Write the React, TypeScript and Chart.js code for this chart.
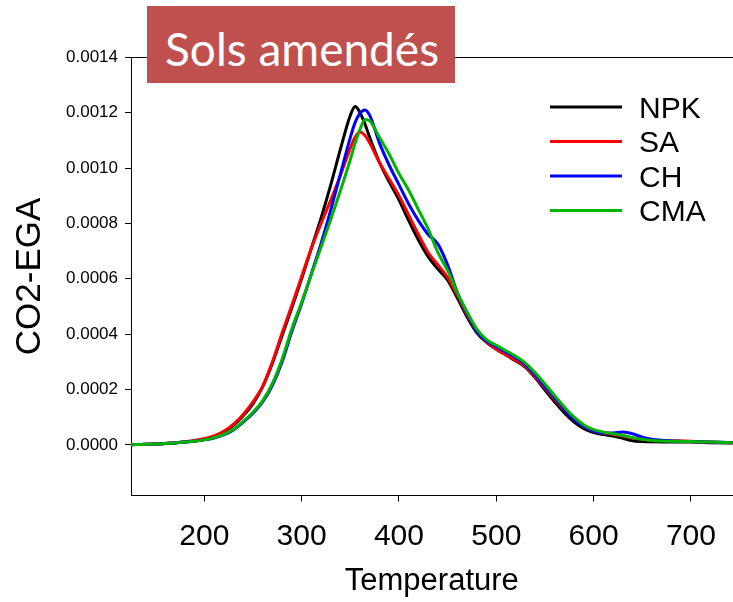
import React, { useEffect, useRef } from "react";
import { Chart, registerables } from "chart.js";

Chart.register(...registerables);

const temperatures = [
  120, 130, 140, 150, 160, 170, 180, 190, 200, 210,
  220, 230, 240, 250, 260, 270, 280, 290, 300, 310,
  320, 330, 340, 350, 355, 360, 365, 370, 380, 390,
  400, 410, 420, 430, 440, 450, 460, 470, 480, 490,
  500, 510, 520, 530, 540, 550, 560, 570, 580, 590,
  600, 610, 620, 630, 640, 650, 660, 680, 700, 720,
  750,
];

const npk = [
  0, 0.000001, 0.000002, 0.000003, 0.000005, 0.000007, 0.00001, 0.000014, 0.00002, 0.00003,
  0.000046, 0.00007, 0.000105, 0.000148, 0.00021, 0.000295, 0.000395, 0.000495, 0.0006, 0.00071,
  0.00082, 0.00094, 0.00107, 0.00119, 0.001222, 0.0012, 0.00116, 0.00111, 0.00102, 0.00095,
  0.000885, 0.00081, 0.00074, 0.00068, 0.000635, 0.000595, 0.00053, 0.000462, 0.000405, 0.00037,
  0.000345, 0.000325, 0.000303, 0.00028, 0.000242, 0.000198, 0.000155, 0.000115, 0.000082, 0.000058,
  0.000044, 0.000037, 0.000032, 0.000024, 0.000015, 0.000012, 0.000011, 0.00001, 0.00001, 0.000008,
  0.000006,
];

const sa = [
  0, 0.000001, 0.000002, 0.000003, 0.000005, 0.000008, 0.000011, 0.000016, 0.000022, 0.000032,
  0.000049, 0.000075, 0.00011, 0.000155, 0.000212, 0.0003, 0.000405, 0.000505, 0.000608, 0.00071,
  0.0008, 0.000885, 0.000975, 0.001072, 0.001112, 0.00113, 0.001118, 0.00109, 0.00102, 0.00096,
  0.0009, 0.00083, 0.00076, 0.000695, 0.00065, 0.000605, 0.00054, 0.00047, 0.00041, 0.000372,
  0.000345, 0.000325, 0.000305, 0.000283, 0.000246, 0.000205, 0.000165, 0.000126, 0.000092, 0.000066,
  0.00005, 0.000042, 0.000038, 0.000032, 0.000025, 0.00002, 0.000017, 0.000015, 0.000013, 0.00001,
  0.000007,
];

const ch = [
  0, 0.000001, 0.000002, 0.000003, 0.000005, 0.000007, 0.00001, 0.000013, 0.000018, 0.000025,
  0.000036, 0.000054, 0.000082, 0.000114, 0.000155, 0.000215, 0.0003, 0.00041, 0.00051, 0.000618,
  0.000728, 0.00085, 0.00098, 0.00111, 0.001165, 0.001198, 0.00121, 0.00119, 0.00109, 0.00101,
  0.00094, 0.00087, 0.00081, 0.00076, 0.000725, 0.00065, 0.00055, 0.000475, 0.00041, 0.000375,
  0.000355, 0.000335, 0.000315, 0.00029, 0.000252, 0.00021, 0.00017, 0.000128, 0.000092, 0.000066,
  0.00005, 0.000043, 0.000043, 0.000046, 0.00004, 0.000028, 0.00002, 0.000014, 0.000012, 0.00001,
  0.000008,
];

const cma = [
  0, 0.000001, 0.000002, 0.000003, 0.000005, 0.000007, 0.00001, 0.000013, 0.000018, 0.000026,
  0.000038, 0.000056, 0.000085, 0.000118, 0.00016, 0.000222, 0.00031, 0.00042, 0.000515, 0.000615,
  0.000715, 0.000815, 0.00092, 0.00103, 0.00109, 0.00114, 0.001175, 0.00117, 0.00111, 0.00105,
  0.00098, 0.00092, 0.00085, 0.00078, 0.000695, 0.00063, 0.00055, 0.00048, 0.000418, 0.00038,
  0.00036, 0.00034, 0.00032, 0.000295, 0.00026, 0.00022, 0.000178, 0.000136, 0.0001, 0.000072,
  0.000055, 0.000046, 0.00004, 0.000034, 0.000026, 0.00002, 0.000016, 0.000013, 0.000012, 0.00001,
  0.000007,
];

const seriesNames = ["NPK", "SA", "CH", "CMA"];
const seriesValues = [npk, sa, ch, cma];
const seriesColors = ["#000000", "#FF0000", "#0000FF", "#00B400"];

const xTickValues = [200, 300, 400, 500, 600, 700];
const yTickValues = [0, 0.0002, 0.0004, 0.0006, 0.0008, 0.001, 0.0012, 0.0014];

const titleText = "Sols amendés";
const xAxisTitle = "Temperature";
const yAxisTitle = "CO2-EGA";

const FONT = '"Liberation Sans", Arial, sans-serif';

const lineLegend = {
  id: "lineLegend",
  afterDatasetsDraw(chart: any) {
    const ctx = chart.ctx;
    ctx.save();
    ctx.font = `30px ${FONT}`;
    ctx.textAlign = "left";
    ctx.textBaseline = "alphabetic";
    seriesNames.forEach((name, i) => {
      const y = 107 + i * 34.5;
      ctx.strokeStyle = seriesColors[i];
      ctx.lineWidth = 3;
      ctx.beginPath();
      ctx.moveTo(550, y);
      ctx.lineTo(622, y);
      ctx.stroke();
      ctx.fillStyle = "#000";
      ctx.fillText(name, 639, y + 10.7);
    });
    ctx.restore();
  },
};

export default function App() {
  const canvasRef = useRef<HTMLCanvasElement | null>(null);

  useEffect(() => {
    if (!canvasRef.current) return;
    const datasets = seriesNames.map((name, i) => ({
      label: name,
      data: temperatures.map((t, j) => ({ x: t, y: seriesValues[i][j] })),
      borderColor: seriesColors[i],
      backgroundColor: seriesColors[i],
      borderWidth: 3,
      pointRadius: 0,
      fill: false,
      cubicInterpolationMode: "monotone" as const,
      order: seriesNames.length - i,
    }));

    const chart = new Chart(canvasRef.current, {
      type: "line",
      data: { datasets },
      plugins: [lineLegend],
      options: {
        animation: false,
        responsive: false,
        devicePixelRatio: 1,
        layout: { padding: { top: 57.3, left: 0, right: 0, bottom: 0 } },
        plugins: {
          legend: { display: false },
          tooltip: { enabled: false },
          title: { display: false },
        },
        scales: {
          x: {
            type: "linear",
            position: "bottom",
            min: 124.7,
            max: 742.8,
            afterFit: (s: any) => {
              s.height = 106.5;
            },
            afterBuildTicks: (s: any) => {
              s.ticks = xTickValues.map((v) => ({ value: v }));
            },
            ticks: {
              color: "#000",
              font: { family: FONT, size: 30 },
              padding: 17,
              maxRotation: 0,
              callback: (v: any) => String(v),
            },
            grid: {
              display: true,
              drawOnChartArea: false,
              drawTicks: true,
              tickLength: 6,
              color: "#000",
              lineWidth: 1,
            },
            border: { display: true, color: "#000", width: 1 },
            title: {
              display: true,
              text: xAxisTitle,
              color: "#000",
              font: { family: FONT, size: 31 },
              padding: { top: 0, bottom: 2 },
            },
          },
          x2: {
            type: "linear",
            position: "top",
            min: 124.7,
            max: 742.8,
            afterFit: (s: any) => {
              s.height = 0;
            },
            ticks: { display: false },
            grid: { display: false },
            border: { display: true, color: "#000", width: 1 },
          },
          y: {
            type: "linear",
            min: -0.000183,
            max: 0.0014,
            afterFit: (s: any) => {
              s.width = 131;
            },
            afterBuildTicks: (s: any) => {
              s.ticks = yTickValues.map((v) => ({ value: v }));
            },
            ticks: {
              color: "#000",
              font: { family: FONT, size: 17 },
              padding: 7,
              callback: (v: any) => Number(v).toFixed(4),
            },
            grid: {
              display: true,
              drawOnChartArea: false,
              drawTicks: true,
              tickLength: 6,
              color: "#000",
              lineWidth: 1,
            },
            border: { display: true, color: "#000", width: 1 },
            title: {
              display: true,
              text: yAxisTitle,
              color: "#000",
              font: { family: FONT, size: 35 },
              padding: { top: 9, bottom: 0 },
            },
          },
        },
      },
    } as any);

    return () => chart.destroy();
  }, []);

  return (
    <div
      style={{
        position: "fixed",
        left: 0,
        top: 0,
        width: 733,
        height: 602,
        background: "#fff",
        overflow: "hidden",
      }}
    >
      <canvas ref={canvasRef} width={733} height={602} style={{ display: "block" }} />
      <div
        style={{
          position: "absolute",
          left: 147,
          top: 6,
          width: 308,
          height: 77,
          background: "#C0504D",
        }}
      >
        <span
          style={{
            position: "absolute",
            left: 18,
            top: 20,
            font: "46px/1 Lato, sans-serif",
            color: "#fff",
            whiteSpace: "nowrap",
          }}
        >
          {titleText}
        </span>
      </div>
    </div>
  );
}
